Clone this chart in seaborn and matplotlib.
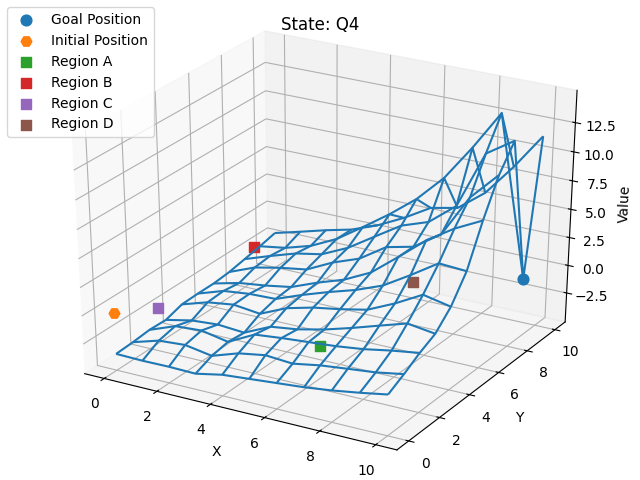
import numpy as np
import matplotlib
matplotlib.use("Agg")
import matplotlib.pyplot as plt
import seaborn as sns

x_values = np.arange(0, 11)
y_values = np.arange(0, 11)
# Value surface, one row per Y, one column per X
value_rows = [
    [-3.68, -3.73, -3.70, -3.75, -3.27, -3.06, -2.85, -2.64, -2.34, -1.96, -1.53],
    [-3.60, -2.90, -2.73, -3.14, -2.35, -1.95, -2.13, -1.71, -1.44, -1.18, -0.76],
    [-3.45, -2.56, -2.40, -2.86, -1.65, -1.40, -1.20, -1.00, -0.70, -0.26, 0.10],
    [-3.50, -3.00, -2.82, -3.00, -1.91, -1.59, -1.05, -0.36, 0.40, 1.14, 0.80],
    [-3.03, -2.30, -1.97, -2.25, -1.20, -0.60, -0.20, 0.30, 1.40, 2.70, 2.20],
    [-2.98, -2.20, -1.93, -1.85, -0.95, -0.15, 0.57, 1.50, 2.95, 4.50, 4.35],
    [-2.98, -2.40, -2.10, -1.70, -0.77, 0.03, 1.20, 3.10, 5.07, 6.60, 7.80],
    [-2.84, -1.90, -1.40, -1.03, 0.13, 1.00, 2.55, 3.10, 4.70, 8.40, 10.80],
    [-2.56, -1.75, -1.00, -0.55, 0.55, 2.07, 3.57, 4.40, 6.30, 11.30, 12.85],
    [-2.27, -1.90, -1.20, -0.05, 1.54, 3.20, 5.05, 7.40, 10.50, 13.90, 0.00],
    [-1.93, -1.30, -0.65, -0.08, 0.82, 2.00, 3.40, 3.90, 5.74, 8.50, 11.60],
]
marker_labels = ["Goal Position", "Initial Position", "Region A", "Region B", "Region C", "Region D"]
marker_x = [10, 0, 7, 1, 1, 7]
marker_y = [9, 0, 1, 7, 1, 7]
marker_z = [0, 0, 0, 0, 0, 0]
marker_shapes = ["o", "H", "s", "s", "s", "s"]

palette = sns.color_palette("tab10", 6)

fig = plt.figure(figsize=(6.4, 4.8), dpi=100)
ax = fig.add_axes([-0.0215, -0.0206, 1.0418, 1.041], projection="3d")
# Let the cube stretch across the whole panel instead of staying square
ax.apply_aspect = lambda position=None: ax._set_position(ax.get_position(original=True), "active")
ax.set_box_aspect((1, 1, 1), zoom=1 / 1.1002)
ax.view_init(elev=30, azim=-60)

X, Y = np.meshgrid(x_values, y_values)
Z = np.array(value_rows)
ax.plot_wireframe(X, Y, Z, color=palette[0], linewidth=1.5)
for mx, my, mz, shape, colour, label in zip(marker_x, marker_y, marker_z, marker_shapes, palette, marker_labels):
    ax.scatter([mx], [my], [mz], marker=shape, s=60, color=[colour], label=label, depthshade=False)

ax.set_xlim(-0.75, 10.75, view_margin=0)
ax.set_ylim(-0.75, 10.75, view_margin=0)
ax.set_zlim(-5.16, 15.23, view_margin=0)
ax.set_xticks([0, 2, 4, 6, 8, 10])
ax.set_yticks([0, 2, 4, 6, 8, 10])
ax.set_zticks([-2.5, 0, 2.5, 5, 7.5, 10, 12.5])
ax.set_xlabel("X")
ax.set_ylabel("Y")
ax.set_zlabel("Value")
fig.text(0.5, 0.937, "State: Q4", ha="center", va="baseline", fontsize=12)
ax.legend(loc="upper left", bbox_to_anchor=(0.011, 0.985), bbox_transform=fig.transFigure,
          borderaxespad=0, scatterpoints=1)
fig.savefig("out.png", dpi=100)
